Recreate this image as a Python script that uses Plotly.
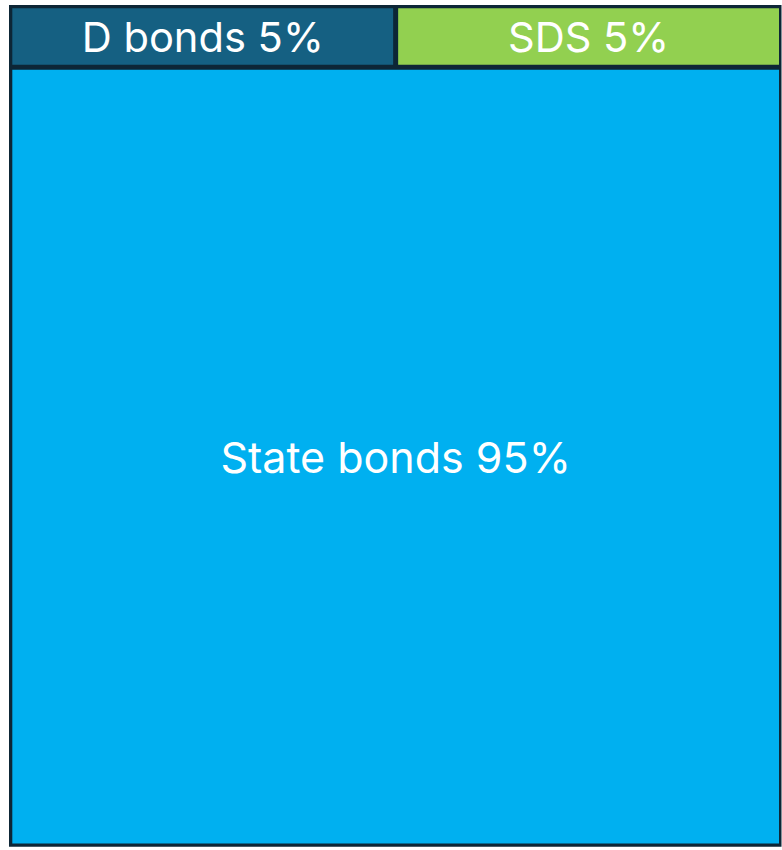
import plotly.graph_objects as go

# Data
root_label = "Portfolio"
labels = ["State bonds", "D bonds", "SDS"]
pct_labels = ["95%", "5%", "5%"]          # percentages printed on the tiles
area_share = [92.7, 3.65, 3.65]           # relative tile areas as drawn
colors = ["#00B0F0", "#156082", "#92D050"]
frame_color = "#0D2636"

texts = [""] + [f"{l} {p}" for l, p in zip(labels, pct_labels)]

fig = go.Figure(go.Treemap(
    ids=[root_label] + labels,
    labels=[root_label] + labels,
    parents=[""] + [root_label] * len(labels),
    values=[0] + area_share,
    branchvalues="remainder",
    text=texts,
    texttemplate=[""] + ["%{text}"] * len(labels),
    textposition="middle center",
    textfont=dict(family="Inter, sans-serif", size=43,
                  color=[frame_color] + ["white"] * len(labels)),
    marker=dict(colors=[frame_color] + colors, line=dict(width=0),
                pad=dict(t=3.3, l=3.3, r=2.5, b=3.3)),
    tiling=dict(packing="squarify", pad=5, flip="y"),
    pathbar=dict(visible=False),
    sort=True,
    hoverinfo="skip",
    domain=dict(x=[9 / 782, 781.5 / 782], y=[(850 - 846.7) / 850, (850 - 5) / 850]),
))

fig.update_layout(
    width=782, height=850,
    margin=dict(l=0, r=0, t=0, b=0),
    paper_bgcolor="white",
)

fig.write_html("out.html", config={"displayModeBar": False},
               post_script="document.body.style.margin='0';")
